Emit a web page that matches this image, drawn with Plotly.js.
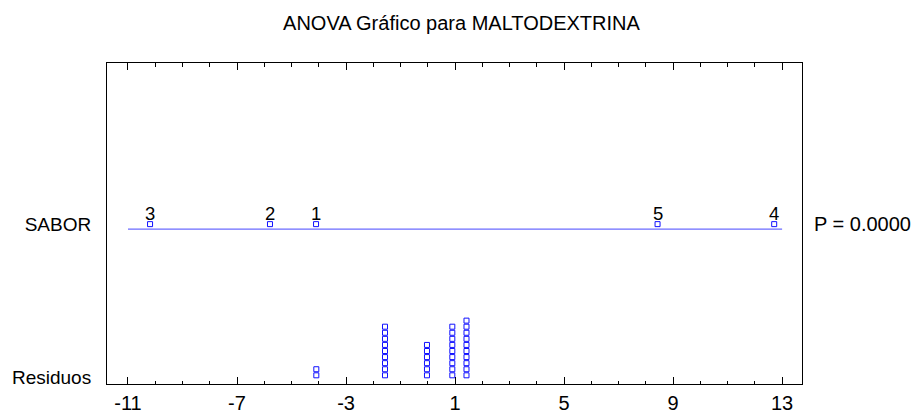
<!DOCTYPE html>
<html>
<head>
<meta charset="utf-8">
<script src="https://cdn.plot.ly/plotly-3.0.1.min.js"></script>
<style>html,body{margin:0;padding:0;background:#fff;}#chart{width:912px;height:414px;}</style>
</head>
<body>
<div id="chart"></div>
<script>
// ---- data ----
const titleText = 'ANOVA Gráfico para MALTODEXTRINA';
const factorName = 'SABOR';
const residLabel = 'Residuos';
const pValueText = 'P = 0.0000';
const groupLabels = ['1', '2', '3', '4', '5'];
const groupEffects = [-4.10, -5.79, -10.19, 12.71, 8.43];
const residuos = [
  -4.09, -4.09,
  -1.57, -1.57, -1.57, -1.57, -1.57, -1.57, -1.57, -1.57, -1.57,
  -0.03, -0.03, -0.03, -0.03, -0.03, -0.03,
  0.90, 0.90, 0.90, 0.90, 0.90, 0.90, 0.90, 0.90, 0.90,
  1.42, 1.42, 1.42, 1.42, 1.42, 1.42, 1.42, 1.42, 1.42, 1.42
];
const xTicks = [-11, -7, -3, 1, 5, 9, 13];

// ---- layout helpers ----
const FONT = '"Liberation Sans", Arial, sans-serif';
const rowSabor = 24.05;      // level of factor line
const markerLift = 0.83;     // markers sit slightly above the line

// stack identical residuals
const seen = {};
const residY = residuos.map(v => {
  const k = v.toFixed(3);
  seen[k] = (seen[k] || 0);
  return seen[k]++;
});

const traces = [
  {
    x: [Math.min(...xTicks), Math.max(...xTicks)],
    y: [rowSabor, rowSabor],
    mode: 'lines',
    line: {color: '#6b6bff', width: 1.3},
    hoverinfo: 'skip',
    showlegend: false
  },
  {
    x: groupEffects,
    y: groupEffects.map(() => rowSabor + markerLift),
    mode: 'markers',
    marker: {symbol: 'square-open', size: 5, color: '#1010ff', line: {width: 1}},
    showlegend: false
  },
  {
    x: residuos,
    y: residY,
    mode: 'markers',
    marker: {symbol: 'square-open', size: 5, color: '#1010ff', line: {width: 1}},
    showlegend: false
  }
];

const groupAnn = groupEffects.map((v, i) => ({
  text: groupLabels[i],
  xref: 'x', yref: 'y',
  x: v, y: rowSabor + markerLift,
  xanchor: 'center', yanchor: 'middle',
  yshift: 11,
  showarrow: false,
  font: {family: FONT, size: 18.5, color: '#000'}
}));

const layout = {
  width: 912, height: 414,
  margin: {l: 107, r: 110, t: 63, b: 30},
  paper_bgcolor: '#fff', plot_bgcolor: '#fff',
  font: {family: FONT, size: 19, color: '#000'},
  title: {
    text: titleText,
    font: {family: FONT, size: 20, color: '#000'},
    xref: 'container', yref: 'container',
    x: 0.506, y: 0.945, xanchor: 'center', yanchor: 'middle'
  },
  xaxis: {
    range: [-11.77, 13.73],
    tickvals: xTicks,
    ticktext: xTicks.map(String),
    ticks: 'inside', ticklen: 7, tickwidth: 1, tickcolor: '#000',
    minor: {dtick: 1, tick0: -11, ticks: 'inside', ticklen: 3.5, tickwidth: 1, tickcolor: '#000', showgrid: false},
    showline: true, linecolor: '#000', linewidth: 1, mirror: 'ticks',
    showgrid: false, zeroline: false,
    tickfont: {family: FONT, size: 20, color: '#000'},
    ticklabelstandoff: 1
  },
  yaxis: {
    range: [-1.43, 51.4],
    tickvals: [rowSabor + markerLift, -0.3],
    ticktext: [factorName, residLabel],
    ticks: '',
    showline: true, linecolor: '#000', linewidth: 1, mirror: true,
    showgrid: false, zeroline: false,
    tickfont: {family: FONT, size: 19, color: '#000'},
    ticklabelstandoff: 11
  },
  annotations: groupAnn.concat([{
    text: pValueText,
    xref: 'paper', yref: 'y',
    x: 1, y: rowSabor + markerLift,
    xanchor: 'left', yanchor: 'middle',
    xshift: 10,
    showarrow: false,
    font: {family: FONT, size: 20, color: '#000'}
  }])
};

Plotly.newPlot('chart', traces, layout, {displayModeBar: false, staticPlot: true});
</script>
</body>
</html>
